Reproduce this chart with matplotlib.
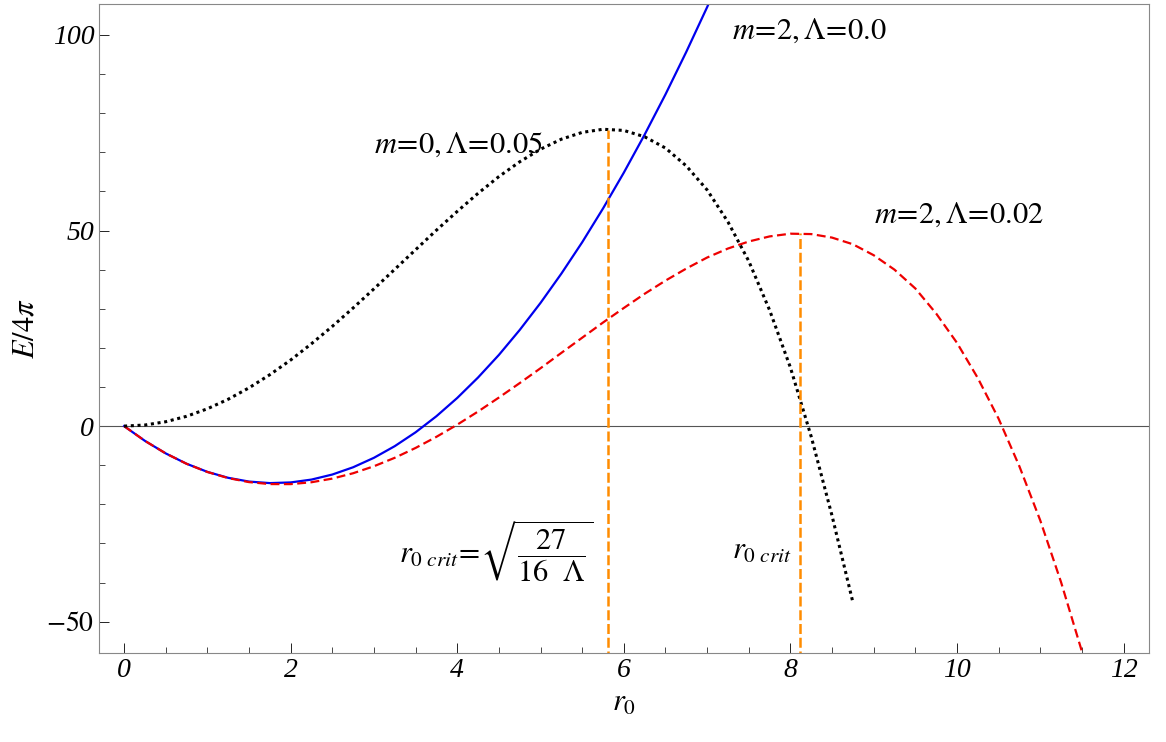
import matplotlib.pyplot as plt
import numpy as np

plt.rcParams['font.family'] = ['Liberation Serif', 'DejaVu Serif']
plt.rcParams['mathtext.fontset'] = 'stix'

# values, every 0.25 in r0
r = np.arange(0, 11.51, 0.25)
blue = np.array([0, -3.77, -6.98, -9.62, -11.7, -13.22, -14.18, -14.57, -14.4,
                 -13.67, -12.38, -10.52, -8.1, -5.12, -1.58, 2.53, 7.2, 12.43,
                 18.2, 24.58, 31.5, 38.98, 47.0, 55.63, 64.8, 74.53, 84.8, 95.68,
                 107.1, 119.1, 131.6, 144.7, 158.4, 172.6, 187.4, 202.8, 218.7,
                 235.2, 252.2, 269.8, 288, 306.7, 326, 345.9, 366.3, 387.3, 408.8])
red = np.array([0, -3.77, -6.98, -9.63, -11.73, -13.29, -14.32, -14.82, -14.83,
                -14.35, -13.42, -12.05, -10.26, -8.1, -5.58, -2.74, 0.37, 3.73,
                7.3, 11.0, 14.8, 18.72, 22.6, 26.48, 30.2, 33.83, 37.2, 40.28,
                43.1, 45.4, 47.2, 48.5, 49.2, 49.1, 48.2, 46.5, 43.7, 40.0, 35.2,
                28.8, 21.3, 12.3, 1.9, -10.3, -24.1, -39.9, -57.6])
r_black = np.arange(0, 8.76, 0.25)
black = np.array([0, 0.28, 1.12, 2.51, 4.43, 6.87, 9.79, 13.15, 16.9, 21.07,
                  25.5, 30.21, 35.1, 40.09, 45.1, 50.09, 54.9, 59.52, 63.8, 67.58,
                  70.8, 73.36, 75.1, 75.9, 75.6, 73.98, 71.1, 66.53, 60.4, 52.23,
                  42.2, 29.68, 15, -2.67, -22.9, -45.0])
r_crit = [5.81, 8.11]
e_crit = [75.8, 49.5]

fig, ax = plt.subplots(figsize=(11.66, 7.42), dpi=100)
ax.axhline(0, color='#555555', lw=0.8)
ax.plot(r, blue, color='#0000ee', lw=1.6)
ax.plot(r, red, color='#ee0000', lw=1.6, ls=(0, (4, 2)))
ax.plot(r_black, black, color='black', lw=2.2, ls=(0, (1, 1.2)))
for rc, ec in zip(r_crit, e_crit):
    ax.plot([rc, rc], [-60, ec], color='#ff8c00', lw=1.8, ls=(0, (4, 1.5)))

ax.set_xlim(-0.3, 12.3)
ax.set_ylim(-58, 108)
ax.set_xticks([0, 2, 4, 6, 8, 10, 12])
ax.set_yticks([-50, 0, 50, 100])
ax.set_xticks(np.arange(0, 12.5, 0.5), minor=True)
ax.set_yticks(np.arange(-50, 101, 10), minor=True)
ax.set_xticklabels(['0', '2', '4', '6', '8', '10', '12'], style='italic')
ax.set_yticklabels(['$-50$', '0', '50', '100'], style='italic')
ax.tick_params(labelsize=20, direction='in', length=7, width=0.6)
ax.tick_params(which='minor', direction='in', length=4, width=0.5)
for s in ax.spines.values():
    s.set_color('#888888')
ax.set_xlabel('$r_0$', fontsize=22)
ax.set_ylabel(r'$E/4\pi$', fontsize=22)

ax.text(7.3, 99, '$m\\!=\\!2,\\mathit{\\Lambda}\\!=\\!0.0$', fontsize=22)
ax.text(3.0, 70, '$m\\!=\\!0,\\mathit{\\Lambda}\\!=\\!0.05$', fontsize=22)
ax.text(9.0, 52, '$m\\!=\\!2,\\mathit{\\Lambda}\\!=\\!0.02$', fontsize=22)
ax.text(3.3, -35, r'$r_{0\ crit}\!=\!\sqrt{\dfrac{27}{16\ \ \mathit{\Lambda}}}$', fontsize=22)
ax.text(7.3, -34, r'$r_{0\ crit}$', fontsize=22)

plt.subplots_adjust(left=0.085, right=0.985, top=0.995, bottom=0.12)
plt.savefig('out.png')
